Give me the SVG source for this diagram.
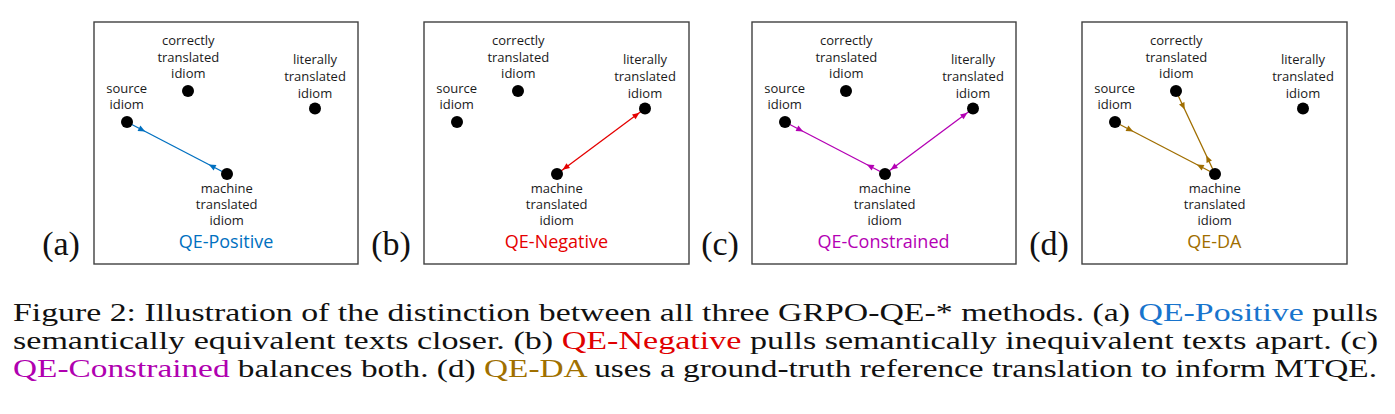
<svg xmlns="http://www.w3.org/2000/svg" width="1395" height="414" viewBox="0 0 1395 414">
<style>
.frame{fill:#fff;stroke:#404040;stroke-width:1.4}
.dot{fill:#000}
.lbl{font-family:"Open Sans","Noto Sans",sans-serif;font-size:13px;fill:#1a1a1a;text-anchor:middle}
.qe{font-family:"Open Sans","Noto Sans",sans-serif;font-size:18px;text-anchor:middle}
.tag{font-family:"Liberation Serif",serif;font-size:34px;fill:#111;text-anchor:middle}
.cap{font-family:"Liberation Serif",serif;font-size:26px;fill:#111}
.conn{fill:none;stroke-width:1.3}
.blue{stroke:#0070C0}
.red{stroke:#E50000}
.mag{stroke:#B400B4}
.brn{stroke:#A06E00}
marker{overflow:visible}
</style>
<defs>
<marker id="pS-blue" markerUnits="userSpaceOnUse" markerWidth="1" markerHeight="1" refX="0" refY="0" orient="auto"><path d="M13.5,-3 L20.5,0 L13.5,3 z" fill="#0070C0"/></marker>
<marker id="pE-blue" markerUnits="userSpaceOnUse" markerWidth="1" markerHeight="1" refX="0" refY="0" orient="auto"><path d="M-13.5,-3 L-20.5,0 L-13.5,3 z" fill="#0070C0"/></marker>
<marker id="pS-mag" markerUnits="userSpaceOnUse" markerWidth="1" markerHeight="1" refX="0" refY="0" orient="auto"><path d="M13.5,-3 L20.5,0 L13.5,3 z" fill="#B400B4"/></marker>
<marker id="pE-mag" markerUnits="userSpaceOnUse" markerWidth="1" markerHeight="1" refX="0" refY="0" orient="auto"><path d="M-13.5,-3 L-20.5,0 L-13.5,3 z" fill="#B400B4"/></marker>
<marker id="pS-brn" markerUnits="userSpaceOnUse" markerWidth="1" markerHeight="1" refX="0" refY="0" orient="auto"><path d="M13.5,-3 L20.5,0 L13.5,3 z" fill="#A06E00"/></marker>
<marker id="pE-brn" markerUnits="userSpaceOnUse" markerWidth="1" markerHeight="1" refX="0" refY="0" orient="auto"><path d="M-13.5,-3 L-20.5,0 L-13.5,3 z" fill="#A06E00"/></marker>
<marker id="aS-red" markerUnits="userSpaceOnUse" markerWidth="1" markerHeight="1" refX="0" refY="0" orient="auto"><path d="M14,-3 L7,0 L14,3 z" fill="#E50000"/></marker>
<marker id="aE-red" markerUnits="userSpaceOnUse" markerWidth="1" markerHeight="1" refX="0" refY="0" orient="auto"><path d="M-14,-3 L-7,0 L-14,3 z" fill="#E50000"/></marker>
<marker id="aS-mag" markerUnits="userSpaceOnUse" markerWidth="1" markerHeight="1" refX="0" refY="0" orient="auto"><path d="M14,-3 L7,0 L14,3 z" fill="#B400B4"/></marker>
<marker id="aE-mag" markerUnits="userSpaceOnUse" markerWidth="1" markerHeight="1" refX="0" refY="0" orient="auto"><path d="M-14,-3 L-7,0 L-14,3 z" fill="#B400B4"/></marker>
</defs>

<!-- Panel (a) -->
<text class="tag" x="61" y="255">(a)</text>
<g id="panel-a" transform="translate(94,22)">
  <rect class="frame" x="0" y="0" width="264" height="242"/>
  <g id="a-connectors">
    <path class="conn blue" d="M33,100 L133,152" marker-start="url(#pS-blue)" marker-end="url(#pE-blue)"/>
  </g>
  <g id="a-source"><circle class="dot" cx="33" cy="100" r="6"/><text class="lbl" x="32.7" y="70.7">source</text><text class="lbl" x="32.7" y="87.3">idiom</text></g>
  <g id="a-correct"><circle class="dot" cx="94" cy="69" r="6"/><text class="lbl" x="94.3" y="23">correctly</text><text class="lbl" x="94.3" y="39.7">translated</text><text class="lbl" x="94.3" y="56.4">idiom</text></g>
  <g id="a-literal"><circle class="dot" cx="221" cy="86.5" r="6"/><text class="lbl" x="221" y="42.3">literally</text><text class="lbl" x="221" y="59">translated</text><text class="lbl" x="221" y="75.7">idiom</text></g>
  <g id="a-machine"><circle class="dot" cx="133" cy="152" r="6"/><text class="lbl" x="132.7" y="170.8">machine</text><text class="lbl" x="132.7" y="186.7">translated</text><text class="lbl" x="132.7" y="202.6">idiom</text></g>
  <text class="qe" x="132" y="226" fill="#0070C0">QE-Positive</text>
</g>

<!-- Panel (b) -->
<text class="tag" x="391" y="255">(b)</text>
<g id="panel-b" transform="translate(424,22)">
  <rect class="frame" x="0" y="0" width="265" height="242"/>
  <g id="b-connectors">
    <path class="conn red" d="M133,152 L221,86.5" marker-start="url(#aS-red)" marker-end="url(#aE-red)"/>
  </g>
  <g id="b-source"><circle class="dot" cx="33" cy="100" r="6"/><text class="lbl" x="32.7" y="70.7">source</text><text class="lbl" x="32.7" y="87.3">idiom</text></g>
  <g id="b-correct"><circle class="dot" cx="94" cy="69" r="6"/><text class="lbl" x="94.3" y="23">correctly</text><text class="lbl" x="94.3" y="39.7">translated</text><text class="lbl" x="94.3" y="56.4">idiom</text></g>
  <g id="b-literal"><circle class="dot" cx="221" cy="86.5" r="6"/><text class="lbl" x="221" y="42.3">literally</text><text class="lbl" x="221" y="59">translated</text><text class="lbl" x="221" y="75.7">idiom</text></g>
  <g id="b-machine"><circle class="dot" cx="133" cy="152" r="6"/><text class="lbl" x="132.7" y="170.8">machine</text><text class="lbl" x="132.7" y="186.7">translated</text><text class="lbl" x="132.7" y="202.6">idiom</text></g>
  <text class="qe" x="132.5" y="226" fill="#E50000">QE-Negative</text>
</g>

<!-- Panel (c) -->
<text class="tag" x="720" y="255">(c)</text>
<g id="panel-c" transform="translate(752,22)">
  <rect class="frame" x="0" y="0" width="264" height="242"/>
  <g id="c-connectors">
    <path class="conn mag" d="M33,100 L133,152" marker-start="url(#pS-mag)" marker-end="url(#pE-mag)"/>
    <path class="conn mag" d="M133,152 L221,86.5" marker-start="url(#aS-mag)" marker-end="url(#aE-mag)"/>
  </g>
  <g id="c-source"><circle class="dot" cx="33" cy="100" r="6"/><text class="lbl" x="32.7" y="70.7">source</text><text class="lbl" x="32.7" y="87.3">idiom</text></g>
  <g id="c-correct"><circle class="dot" cx="94" cy="69" r="6"/><text class="lbl" x="94.3" y="23">correctly</text><text class="lbl" x="94.3" y="39.7">translated</text><text class="lbl" x="94.3" y="56.4">idiom</text></g>
  <g id="c-literal"><circle class="dot" cx="221" cy="86.5" r="6"/><text class="lbl" x="221" y="42.3">literally</text><text class="lbl" x="221" y="59">translated</text><text class="lbl" x="221" y="75.7">idiom</text></g>
  <g id="c-machine"><circle class="dot" cx="133" cy="152" r="6"/><text class="lbl" x="132.7" y="170.8">machine</text><text class="lbl" x="132.7" y="186.7">translated</text><text class="lbl" x="132.7" y="202.6">idiom</text></g>
  <text class="qe" x="131.5" y="226" fill="#B400B4">QE-Constrained</text>
</g>

<!-- Panel (d) -->
<text class="tag" x="1049" y="255">(d)</text>
<g id="panel-d" transform="translate(1082,22)">
  <rect class="frame" x="0" y="0" width="265" height="242"/>
  <g id="d-connectors">
    <path class="conn brn" d="M33,100 L133,152" marker-start="url(#pS-brn)" marker-end="url(#pE-brn)"/>
    <path class="conn brn" d="M94,69 L133,152" marker-start="url(#pS-brn)" marker-end="url(#pE-brn)"/>
  </g>
  <g id="d-source"><circle class="dot" cx="33" cy="100" r="6"/><text class="lbl" x="32.7" y="70.7">source</text><text class="lbl" x="32.7" y="87.3">idiom</text></g>
  <g id="d-correct"><circle class="dot" cx="94" cy="69" r="6"/><text class="lbl" x="94.3" y="23">correctly</text><text class="lbl" x="94.3" y="39.7">translated</text><text class="lbl" x="94.3" y="56.4">idiom</text></g>
  <g id="d-literal"><circle class="dot" cx="221" cy="86.5" r="6"/><text class="lbl" x="221" y="42.3">literally</text><text class="lbl" x="221" y="59">translated</text><text class="lbl" x="221" y="75.7">idiom</text></g>
  <g id="d-machine"><circle class="dot" cx="133" cy="152" r="6"/><text class="lbl" x="132.7" y="170.8">machine</text><text class="lbl" x="132.7" y="186.7">translated</text><text class="lbl" x="132.7" y="202.6">idiom</text></g>
  <text class="qe" x="132.3" y="226" fill="#A06E00">QE-DA</text>
</g>

<!-- Caption -->
<g id="caption">
<text class="cap" x="13" y="320.5" textLength="1365" lengthAdjust="spacingAndGlyphs">Figure 2: Illustration of the distinction between all three GRPO-QE-* methods. (a) <tspan fill="#1874CD">QE-Positive</tspan> pulls</text>
<text class="cap" x="13" y="348.8" textLength="1365" lengthAdjust="spacingAndGlyphs">semantically equivalent texts closer. (b) <tspan fill="#E00000">QE-Negative</tspan> pulls semantically inequivalent texts apart. (c)</text>
<text class="cap" x="13" y="377" textLength="1364" lengthAdjust="spacingAndGlyphs"><tspan fill="#B000B0">QE-Constrained</tspan> balances both. (d) <tspan fill="#A07000">QE-DA</tspan> uses a ground-truth reference translation to inform MTQE.</text>
</g>
</svg>
